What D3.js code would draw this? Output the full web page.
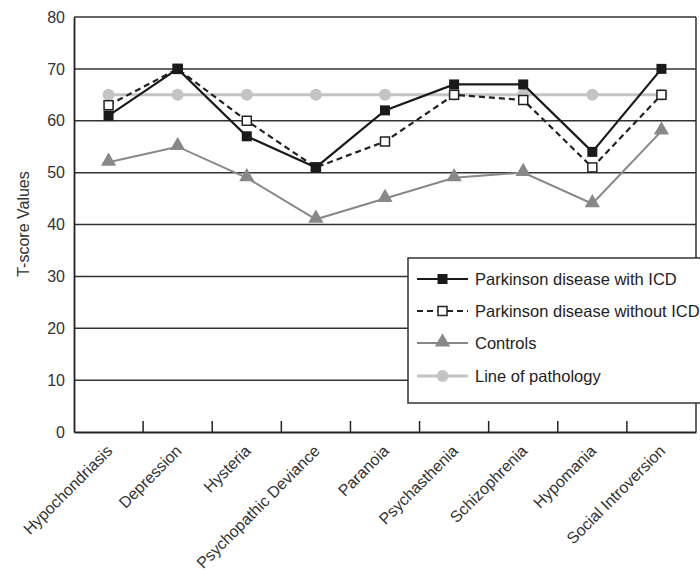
<!DOCTYPE html>
<html><head><meta charset="utf-8">
<script src="https://cdn.jsdelivr.net/npm/d3@7"></script>
<style>body{margin:0;background:#fff;} svg{display:block;font-family:"Liberation Sans",Arial,sans-serif;}</style>
</head><body><svg id="c" width="700" height="572"></svg>
<script>
const categories = ["Hypochondriasis","Depression","Hysteria","Psychopathic Deviance","Paranoia","Psychasthenia","Schizophrenia","Hypomania","Social Introversion"];
const withICD = [61,70,57,51,62,67,67,54,70];
const withoutICD = [63,70,60,51,56,65,64,51,65];
const controls = [52,55,49,41,45,49,50,44,58];
const pathology = [65,65,65,65,65,65,65,65,65];
const yTicks = [0,10,20,30,40,50,60,70,80];
const seriesNames = ["Parkinson disease with ICD","Parkinson disease without ICD","Controls","Line of pathology"];

const svg = d3.select("#c");
const L = 74, R = 696, T = 17, B = 432;
const x = d3.scaleBand().domain(categories).range([L, R]).padding(0);
const y = d3.scaleLinear().domain([0, 80]).range([B, T]);
const cx = d => x(d) + x.bandwidth() / 2;
const FONT = "Liberation Sans, Arial, sans-serif";

// grid lines
svg.append("g").selectAll("line").data(yTicks.filter(t => t > 0)).join("line")
  .attr("x1", L).attr("x2", R).attr("y1", d => y(d)).attr("y2", d => y(d))
  .attr("stroke", "#333").attr("stroke-width", 1.5);
// right border
svg.append("line").attr("x1", R).attr("x2", R).attr("y1", T).attr("y2", B)
  .attr("stroke", "#333").attr("stroke-width", 1.5);

// y axis
const yAxis = svg.append("g").attr("transform", `translate(${L},0)`)
  .call(d3.axisLeft(y).tickValues(yTicks).tickSize(0).tickPadding(9));
yAxis.select(".domain").attr("stroke", "#222").attr("stroke-width", 1.8);
yAxis.selectAll("text").attr("font-size", 16).attr("fill", "#333").attr("font-family", FONT);

// x axis
const xAxis = svg.append("g").attr("transform", `translate(0,${B})`)
  .call(d3.axisBottom(x).tickSize(0));
xAxis.select(".domain").attr("stroke", "#222").attr("stroke-width", 1.8);
xAxis.selectAll(".tick text")
  .attr("font-size", 16).attr("fill", "#333").attr("font-family", FONT)
  .attr("text-anchor", "end")
  .attr("transform", "translate(1,16) rotate(-45)")
  .attr("dy", "0.35em").attr("y", 0).attr("x", 0);
// inner tick marks at band boundaries
svg.append("g").selectAll("line").data(categories.slice(1)).join("line")
  .attr("x1", d => x(d)).attr("x2", d => x(d)).attr("y1", B).attr("y2", B - 11)
  .attr("stroke", "#222").attr("stroke-width", 1.5);

// y label
svg.append("text").attr("transform", "translate(29,224) rotate(-90)")
  .attr("text-anchor", "middle").attr("font-size", 16).attr("fill", "#333")
  .text("T-score Values");

const line = d3.line().x((d, i) => cx(categories[i])).y(d => y(d));

// pathology
svg.append("path").datum(pathology).attr("d", line).attr("fill", "none")
  .attr("stroke", "#c4c4c4").attr("stroke-width", 3);
svg.append("g").selectAll("circle").data(pathology).join("circle")
  .attr("cx", (d, i) => cx(categories[i])).attr("cy", d => y(d)).attr("r", 6).attr("fill", "#c4c4c4");

// controls
svg.append("path").datum(controls).attr("d", line).attr("fill", "none")
  .attr("stroke", "#888").attr("stroke-width", 2);
const tri = d3.symbol().type(d3.symbolTriangle).size(100);
svg.append("g").selectAll("path").data(controls).join("path")
  .attr("d", tri).attr("transform", (d, i) => `translate(${cx(categories[i])},${y(d) - 1})`)
  .attr("fill", "#888");

// without ICD
svg.append("path").datum(withoutICD).attr("d", line).attr("fill", "none")
  .attr("stroke", "#222").attr("stroke-width", 2.2).attr("stroke-dasharray", "6,4");
svg.append("g").selectAll("rect").data(withoutICD).join("rect")
  .attr("x", (d, i) => cx(categories[i]) - 4.5).attr("y", d => y(d) - 4.5)
  .attr("width", 9).attr("height", 9).attr("fill", "#fff").attr("stroke", "#222").attr("stroke-width", 1.5);

// with ICD
svg.append("path").datum(withICD).attr("d", line).attr("fill", "none")
  .attr("stroke", "#1a1a1a").attr("stroke-width", 2.2);
svg.append("g").selectAll("rect").data(withICD).join("rect")
  .attr("x", (d, i) => cx(categories[i]) - 5).attr("y", d => y(d) - 5)
  .attr("width", 10).attr("height", 10).attr("fill", "#1a1a1a");

// legend
const lg = svg.append("g");
lg.append("rect").attr("x", 408).attr("y", 258).attr("width", 320).attr("height", 145)
  .attr("fill", "#fff").attr("stroke", "#333").attr("stroke-width", 1.5);
const rowY = [279, 311, 343, 376];
const x1 = 417, x2 = 468, xm = 442.5;
seriesNames.forEach((name, i) => {
  const g = lg.append("g");
  const yy = rowY[i];
  if (i === 0) {
    g.append("line").attr("x1", x1).attr("x2", x2).attr("y1", yy).attr("y2", yy).attr("stroke", "#1a1a1a").attr("stroke-width", 2.2);
    g.append("rect").attr("x", xm - 5).attr("y", yy - 5).attr("width", 10).attr("height", 10).attr("fill", "#1a1a1a");
  } else if (i === 1) {
    g.append("line").attr("x1", x1).attr("x2", x2).attr("y1", yy).attr("y2", yy).attr("stroke", "#222").attr("stroke-width", 2.2).attr("stroke-dasharray", "6,4");
    g.append("rect").attr("x", xm - 4.5).attr("y", yy - 4.5).attr("width", 9).attr("height", 9).attr("fill", "#fff").attr("stroke", "#222").attr("stroke-width", 1.5);
  } else if (i === 2) {
    g.append("line").attr("x1", x1).attr("x2", x2).attr("y1", yy).attr("y2", yy).attr("stroke", "#888").attr("stroke-width", 2);
    g.append("path").attr("d", tri).attr("transform", `translate(${xm},${yy - 1})`).attr("fill", "#888");
  } else {
    g.append("line").attr("x1", x1).attr("x2", x2).attr("y1", yy).attr("y2", yy).attr("stroke", "#c4c4c4").attr("stroke-width", 3);
    g.append("circle").attr("cx", xm).attr("cy", yy).attr("r", 6).attr("fill", "#c4c4c4");
  }
  g.append("text").attr("x", 475).attr("y", yy).attr("dy", "0.35em")
    .attr("font-size", 16.5).attr("fill", "#222").text(name);
});
</script></body></html>
